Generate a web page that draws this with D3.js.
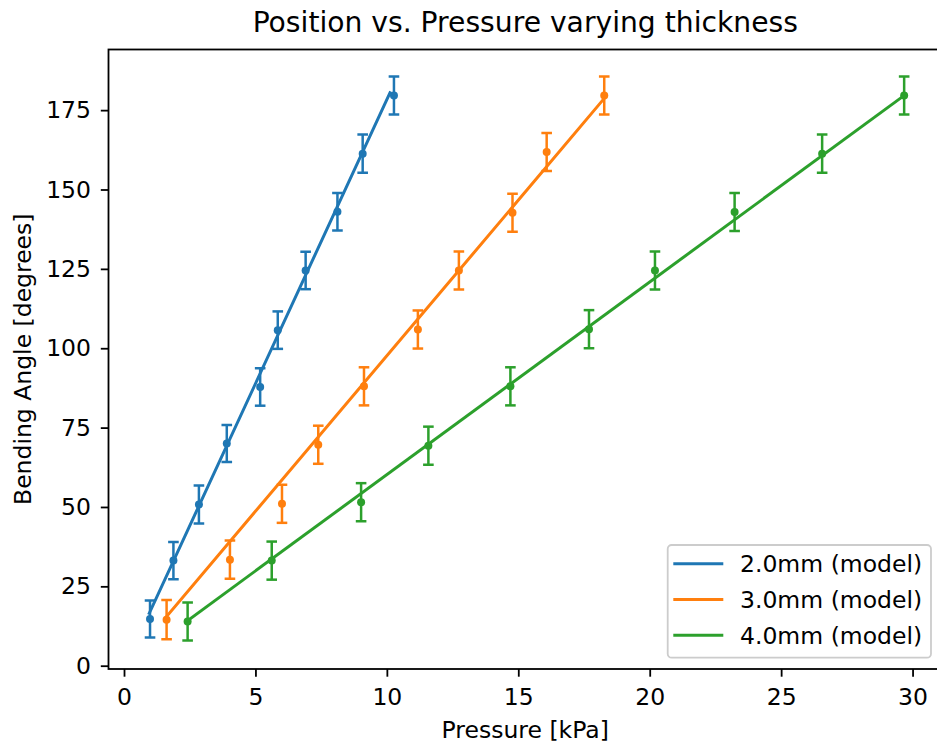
<!DOCTYPE html>
<html>
<head>
<meta charset="utf-8">
<script src="https://cdn.jsdelivr.net/npm/d3@7"></script>
<style>
  body { margin: 0; background: #fff; }
  text { font-family: "DejaVu Sans", sans-serif; fill: #000; }
</style>
</head>
<body>
<div id="chart"></div>
<script>
// series names + colours
var labels = ["2.0mm (model)", "3.0mm (model)", "4.0mm (model)"];
var colors = ["#1f77b4", "#ff7f0e", "#2ca02c"];

// measured points (pressure kPa, angle deg, error deg)
var press2 = [0.99, 1.88, 2.85, 3.91, 5.18, 5.85, 6.91, 8.12, 9.08, 10.27];
var angle2 = [14.7, 33.1, 50.8, 70.0, 87.8, 105.7, 124.5, 143.0, 161.3, 179.6];
var err2   = [5.8, 5.9, 6.0, 5.8, 5.9, 5.9, 5.9, 5.9, 6.0, 6.0];

var press3 = [1.62, 4.03, 6.01, 7.39, 9.13, 11.18, 12.74, 14.78, 16.08, 18.27];
var angle3 = [14.5, 33.4, 51.0, 69.6, 88.0, 105.9, 124.5, 142.7, 161.8, 179.6];
var err3   = [6.2, 6.0, 6.0, 6.0, 6.0, 6.0, 6.0, 6.0, 6.0, 6.0];

var press4 = [2.42, 5.62, 9.02, 11.58, 14.70, 17.69, 20.20, 23.23, 26.56, 29.68];
var angle4 = [13.9, 33.1, 51.5, 69.3, 88.0, 106.0, 124.5, 142.9, 161.3, 179.6];
var err4   = [6.0, 6.0, 6.0, 6.0, 6.0, 6.0, 6.0, 6.0, 6.0, 6.0];

// model lines (end points)
var model2X = [0.96, 10.12], model2Y = [16.5, 180.5];
var model3X = [1.59, 18.25], model3Y = [15.2, 178.5];
var model4X = [2.42, 29.68], model4Y = [14.2, 179.6];

var xTicks = [0, 5, 10, 15, 20, 25, 30];
var yTicks = [0, 25, 50, 75, 100, 125, 150, 175];

var width = 937, height = 748;
var mLeft = 108.5, mRight = 942, mTop = 49.5, mBottom = 669;
var fs = 23.5;

var svg = d3.select("#chart").append("svg")
  .attr("width", width).attr("height", height)
  .style("overflow", "hidden");

svg.append("rect").attr("width", width).attr("height", height).attr("fill", "#fff");

var x = d3.scaleLinear().domain([-0.59, 31.12]).range([mLeft, mRight]);
var y = d3.scaleLinear().domain([-1.04, 194.1]).range([mBottom, mTop]);

var series = [
  {px: press2, py: angle2, e: err2, mx: model2X, my: model2Y},
  {px: press3, py: angle3, e: err3, mx: model3X, my: model3Y},
  {px: press4, py: angle4, e: err4, mx: model4X, my: model4Y}
];

var line = d3.line().x(function(d) { return x(d[0]); }).y(function(d) { return y(d[1]); });

// clip to plot area
svg.append("clipPath").attr("id", "plot")
  .append("rect").attr("x", mLeft).attr("y", mTop).attr("width", mRight - mLeft).attr("height", mBottom - mTop);

var plot = svg.append("g").attr("clip-path", "url(#plot)");

series.forEach(function(s, i) {
  var pts = s.px.map(function(v, k) { return {x: v, y: s.py[k], e: s.e[k]}; });
  var g = plot.append("g");

  // error bars
  g.selectAll(".eb").data(pts).enter().append("line")
    .attr("x1", function(d) { return x(d.x); })
    .attr("x2", function(d) { return x(d.x); })
    .attr("y1", function(d) { return y(d.y - d.e); })
    .attr("y2", function(d) { return y(d.y + d.e); })
    .attr("stroke", colors[i]).attr("stroke-width", 2.5);

  // caps
  [-1, 1].forEach(function(sgn) {
    g.selectAll(".cap" + sgn).data(pts).enter().append("line")
      .attr("x1", function(d) { return x(d.x) - 5.3; })
      .attr("x2", function(d) { return x(d.x) + 5.3; })
      .attr("y1", function(d) { return y(d.y + sgn * d.e); })
      .attr("y2", function(d) { return y(d.y + sgn * d.e); })
      .attr("stroke", colors[i]).attr("stroke-width", 2.5);
  });

  // markers
  g.selectAll("circle").data(pts).enter().append("circle")
    .attr("cx", function(d) { return x(d.x); })
    .attr("cy", function(d) { return y(d.y); })
    .attr("r", 4)
    .attr("fill", colors[i]);

  // model line
  g.append("path")
    .datum(s.mx.map(function(v, k) { return [v, s.my[k]]; }))
    .attr("d", line)
    .attr("fill", "none")
    .attr("stroke", colors[i])
    .attr("stroke-width", 3)
    .attr("stroke-linecap", "square");
});

// axes
var xAxis = svg.append("g").attr("transform", "translate(0," + mBottom + ")")
  .call(d3.axisBottom(x).tickValues(xTicks).tickSize(7.7).tickSizeOuter(0).tickFormat(d3.format("d")));
var yAxis = svg.append("g").attr("transform", "translate(" + mLeft + ",0)")
  .call(d3.axisLeft(y).tickValues(yTicks).tickSize(7.7).tickSizeOuter(0).tickFormat(d3.format("d")));

[xAxis, yAxis].forEach(function(a) {
  a.select(".domain").remove();
  a.selectAll(".tick line").attr("stroke", "#000").attr("stroke-width", 1.8);
  a.selectAll(".tick text").attr("font-size", fs).attr("font-family", "DejaVu Sans").attr("fill", "#000");
});
xAxis.selectAll(".tick text").attr("y", 0).attr("dy", 0).attr("transform", "translate(0,35.5)");
yAxis.selectAll(".tick text").attr("x", -17.5).attr("dy", "0.32em");

// spines
svg.append("rect")
  .attr("x", mLeft).attr("y", mTop)
  .attr("width", mRight - mLeft).attr("height", mBottom - mTop)
  .attr("fill", "none").attr("stroke", "#000").attr("stroke-width", 1.8);

// title + labels
svg.append("text").attr("x", (mLeft + mRight) / 2).attr("y", 32)
  .attr("text-anchor", "middle").attr("font-size", 28.2)
  .text("Position vs. Pressure varying thickness");

svg.append("text").attr("x", (mLeft + mRight) / 2).attr("y", 737.5)
  .attr("text-anchor", "middle").attr("font-size", fs)
  .text("Pressure [kPa]");

svg.append("text")
  .attr("transform", "translate(31," + (mTop + mBottom) / 2 + ") rotate(-90)")
  .attr("text-anchor", "middle").attr("font-size", fs)
  .text("Bending Angle [degrees]");

// legend
var leg = svg.append("g");
leg.append("rect")
  .attr("x", 667.7).attr("y", 545).attr("width", 263.3).attr("height", 112.7)
  .attr("rx", 4).attr("fill", "#fff").attr("fill-opacity", 0.8)
  .attr("stroke", "#cccccc").attr("stroke-width", 1.8);

labels.forEach(function(l, i) {
  var ry = 563.7 + i * 35.8;
  leg.append("line")
    .attr("x1", 673.3).attr("x2", 723.3).attr("y1", ry).attr("y2", ry)
    .attr("stroke", colors[i]).attr("stroke-width", 3);
  leg.append("text").attr("x", 740).attr("y", ry + 8.5)
    .attr("font-size", fs).text(l);
});
</script>
</body>
</html>
